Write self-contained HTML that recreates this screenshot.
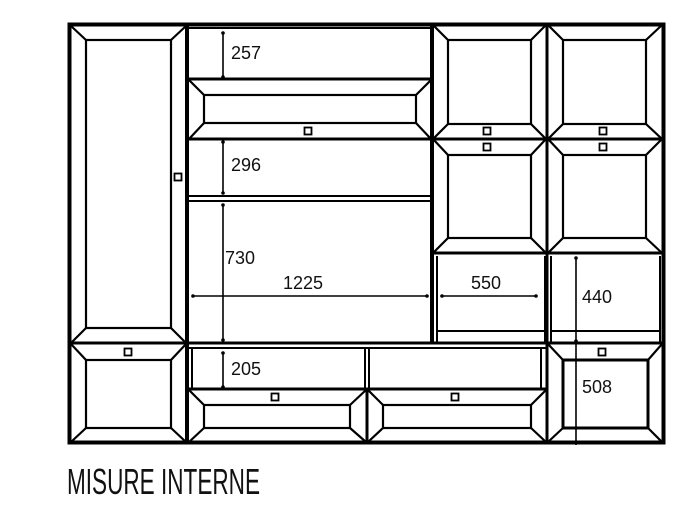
<!DOCTYPE html>
<html><head><meta charset="utf-8"><style>
html,body{margin:0;padding:0;background:#fff;}
svg{display:block}
text{font-family:"Liberation Sans",sans-serif;fill:#111}
</style></head><body>
<svg width="695" height="520" viewBox="0 0 695 520" xmlns="http://www.w3.org/2000/svg">
<g fill="none" stroke="#000">
<rect x="69.5" y="24.5" width="594" height="418" stroke-width="4"/>
<line x1="187" y1="24" x2="187" y2="443" stroke-width="4"/>
<line x1="432" y1="24" x2="432" y2="343" stroke-width="4"/>
<line x1="547" y1="24" x2="547" y2="443" stroke-width="3"/>
<line x1="188" y1="28" x2="432" y2="28" stroke-width="2"/>

<g stroke-width="2.2">
<rect x="86" y="40" width="85" height="288"/>
<line x1="71" y1="26" x2="86" y2="40"/><line x1="186" y1="26" x2="171" y2="40"/>
<line x1="71" y1="343" x2="86" y2="328"/><line x1="186" y1="343" x2="171" y2="328"/>
</g>
<line x1="69" y1="343" x2="187" y2="343" stroke-width="3"/>
<rect x="174.5" y="173.5" width="7" height="7" stroke-width="1.8"/>
<g stroke-width="2.2">
<rect x="86" y="360" width="85" height="68"/>
<line x1="71" y1="344" x2="86" y2="360"/><line x1="186" y1="344" x2="171" y2="360"/>
<line x1="71" y1="442" x2="86" y2="428"/><line x1="186" y1="442" x2="171" y2="428"/>
</g>
<rect x="124.5" y="348.5" width="7" height="7" stroke-width="1.8"/>

<line x1="188" y1="79" x2="432" y2="79" stroke-width="3"/>
<g stroke-width="2.2">
<rect x="204" y="95" width="212" height="28"/>
<line x1="189" y1="80" x2="204" y2="95"/><line x1="431" y1="80" x2="416" y2="95"/>
<line x1="189" y1="139" x2="204" y2="123"/><line x1="431" y1="139" x2="416" y2="123"/>
</g>
<rect x="304.5" y="127.5" width="7" height="7" stroke-width="1.8"/>
<line x1="188" y1="139" x2="432" y2="139" stroke-width="3"/>
<line x1="188" y1="196" x2="432" y2="196" stroke-width="2"/>
<line x1="188" y1="201" x2="432" y2="201" stroke-width="2"/>
<line x1="188" y1="343" x2="547" y2="343" stroke-width="3"/>
<line x1="188" y1="348" x2="547" y2="348" stroke-width="2"/>

<line x1="192" y1="348" x2="192" y2="389" stroke-width="2"/>
<line x1="365" y1="348" x2="365" y2="389" stroke-width="2"/>
<line x1="369" y1="348" x2="369" y2="389" stroke-width="2"/>
<line x1="541" y1="348" x2="541" y2="389" stroke-width="2"/>
<line x1="188" y1="389" x2="547" y2="389" stroke-width="3"/>
<line x1="367" y1="389" x2="367" y2="443" stroke-width="3"/>
<g stroke-width="2.2">
<rect x="204" y="405" width="146" height="23"/>
<line x1="189" y1="390" x2="204" y2="405"/><line x1="366" y1="390" x2="350" y2="405"/>
<line x1="189" y1="442" x2="204" y2="428"/><line x1="366" y1="442" x2="350" y2="428"/>
<rect x="383" y="405" width="148" height="23"/>
<line x1="368" y1="390" x2="383" y2="405"/><line x1="546" y1="390" x2="531" y2="405"/>
<line x1="368" y1="442" x2="383" y2="428"/><line x1="546" y1="442" x2="531" y2="428"/>
</g>
<rect x="271.5" y="393.5" width="7" height="7" stroke-width="1.8"/>
<rect x="451.5" y="393.5" width="7" height="7" stroke-width="1.8"/>

<line x1="432" y1="139" x2="663" y2="139" stroke-width="3"/>
<line x1="432" y1="253" x2="663" y2="253" stroke-width="3"/>
<g stroke-width="2.2">
<rect x="448" y="40" width="83" height="84"/>
<line x1="433" y1="25" x2="448" y2="40"/><line x1="546" y1="25" x2="531" y2="40"/>
<line x1="433" y1="139" x2="448" y2="124"/><line x1="546" y1="139" x2="531" y2="124"/>
<rect x="563" y="40" width="83" height="84"/>
<line x1="548" y1="25" x2="563" y2="40"/><line x1="662" y1="25" x2="646" y2="40"/>
<line x1="548" y1="139" x2="563" y2="124"/><line x1="662" y1="139" x2="646" y2="124"/>
<rect x="448" y="155" width="83" height="83"/>
<line x1="433" y1="139" x2="448" y2="155"/><line x1="546" y1="139" x2="531" y2="155"/>
<line x1="433" y1="253" x2="448" y2="238"/><line x1="546" y1="253" x2="531" y2="238"/>
<rect x="563" y="155" width="83" height="83"/>
<line x1="548" y1="139" x2="563" y2="155"/><line x1="662" y1="139" x2="646" y2="155"/>
<line x1="548" y1="253" x2="563" y2="238"/><line x1="662" y1="253" x2="646" y2="238"/>
</g>
<g stroke-width="1.8">
<rect x="483.5" y="127.5" width="7" height="7"/><rect x="483.5" y="143.5" width="7" height="7"/>
<rect x="599.5" y="127.5" width="7" height="7"/><rect x="599.5" y="143.5" width="7" height="7"/>
</g>
<g stroke-width="2">
<line x1="437" y1="256" x2="437" y2="343"/>
<line x1="545" y1="256" x2="545" y2="343"/>
<line x1="437" y1="331" x2="545" y2="331"/>
<line x1="551" y1="256" x2="551" y2="343"/>
<line x1="660" y1="256" x2="660" y2="343"/>
<line x1="551" y1="331" x2="660" y2="331"/>
</g>
<line x1="547" y1="343" x2="663" y2="343" stroke-width="3"/>
<g stroke-width="2.2">
<rect x="563" y="360" width="85" height="68" stroke-width="3"/>
<line x1="548" y1="344" x2="563" y2="360"/><line x1="662" y1="344" x2="648" y2="360"/>
<line x1="548" y1="442" x2="563" y2="428"/><line x1="662" y1="442" x2="648" y2="428"/>
</g>
<rect x="598.5" y="348.5" width="7" height="7" stroke-width="1.8"/>

<g stroke-width="1.6">
<line x1="223" y1="33" x2="223" y2="77"/>
<line x1="223" y1="142" x2="223" y2="193"/>
<line x1="223" y1="205" x2="223" y2="340"/>
<line x1="223" y1="353" x2="223" y2="387"/>
<line x1="193" y1="296" x2="427" y2="296"/>
<line x1="442" y1="296" x2="536" y2="296"/>
<line x1="576" y1="257" x2="576" y2="445"/>
</g>
</g>
<g fill="#000">
<circle cx="223" cy="33" r="1.8"/><circle cx="223" cy="77" r="1.8"/>
<circle cx="223" cy="142" r="1.8"/><circle cx="223" cy="193" r="1.8"/>
<circle cx="223" cy="205" r="1.8"/><circle cx="223" cy="340" r="1.8"/>
<circle cx="223" cy="353" r="1.8"/><circle cx="223" cy="387" r="1.8"/>
<circle cx="193" cy="296" r="1.8"/><circle cx="427" cy="296" r="1.8"/>
<circle cx="442" cy="296" r="1.8"/><circle cx="536" cy="296" r="1.8"/>
<circle cx="576" cy="258" r="1.8"/><circle cx="576" cy="341" r="1.8"/>
</g>
<g font-size="18">
<text x="231" y="59">257</text>
<text x="231" y="171">296</text>
<text x="225" y="264">730</text>
<text x="283" y="289">1225</text>
<text x="471" y="289">550</text>
<text x="582" y="303">440</text>
<text x="231" y="375">205</text>
<text x="582" y="393">508</text>
</g>
<text x="67" y="494" font-size="36" textLength="193" lengthAdjust="spacingAndGlyphs">MISURE INTERNE</text>
</svg>
</body></html>
